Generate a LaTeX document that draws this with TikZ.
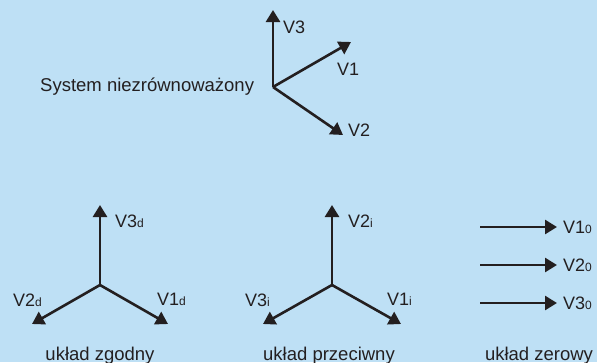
\documentclass[tikz,border=0pt]{standalone}
\usepackage{fontspec}
\setmainfont{Liberation Sans}
\usetikzlibrary{arrows.meta}
\definecolor{bg}{HTML}{BEE0F5}
\definecolor{ink}{HTML}{231F20}
\tikzset{
  vec/.style={draw=ink, line width=2.6pt, -{Triangle[length=12pt,width=14pt]}},
  lbl/.style={text=ink, font=\fontsize{18}{20}\selectfont, inner sep=0pt, anchor=base west},
  captxt/.style={text=ink, font=\fontsize{18.5}{20}\selectfont, inner sep=0pt, anchor=base},
}
\newcommand{\sub}[1]{{\fontsize{12}{12}\selectfont #1}}
\begin{document}
\begin{tikzpicture}[x=1pt,y=-1pt]
\fill[bg] (0,0) rectangle (597,362);
\useasboundingbox (0,0) rectangle (597,362);
% top unbalanced system
\coordinate (o) at (273,87);
\coordinate (t3) at (273,10);
\coordinate (t1) at (351,42);
\coordinate (t2) at (343,135);
\draw[vec] (o) -- (t3);
\draw[vec] (o) -- (t1);
\draw[vec] (o) -- (t2);
\node[lbl] (l3) at (283,33) {V3};
\node[lbl] (l1) at (337,75) {V1};
\node[lbl] (l2) at (348,136) {V2};
\node[captxt, anchor=base west] (sys) at (40,91) {System niezrównoważony};
% positive sequence
\coordinate (od) at (100,285);
\coordinate (d3) at (100,205);
\coordinate (d2) at (32,324);
\coordinate (d1) at (168,324);
\draw[vec] (od) -- (d3);
\draw[vec] (od) -- (d2);
\draw[vec] (od) -- (d1);
\node[lbl] (ld3) at (115,227) {V3\sub{d}};
\node[lbl] (ld2) at (13,306) {V2\sub{d}};
\node[lbl] (ld1) at (157,305) {V1\sub{d}};
\node[captxt] (czg) at (100,360) {układ zgodny};
% negative sequence
\coordinate (oi) at (332,285);
\coordinate (i2) at (332,205);
\coordinate (i3) at (263,324);
\coordinate (i1) at (401,324);
\draw[vec] (oi) -- (i2);
\draw[vec] (oi) -- (i3);
\draw[vec] (oi) -- (i1);
\node[lbl] (li2) at (348,227) {V2\sub{i}};
\node[lbl] (li3) at (245,306) {V3\sub{i}};
\node[lbl] (li1) at (387,305) {V1\sub{i}};
\node[captxt] (cpr) at (329,360) {układ przeciwny};
% zero sequence
\coordinate (a1) at (480,227);
\coordinate (b1) at (557,227);
\coordinate (a2) at (480,265);
\coordinate (b2) at (557,265);
\coordinate (a3) at (480,303);
\coordinate (b3) at (557,303);
\draw[vec] (a1) -- (b1);
\draw[vec] (a2) -- (b2);
\draw[vec] (a3) -- (b3);
\node[lbl] (l01) at (563,233) {V1\sub{0}};
\node[lbl] (l02) at (563,271) {V2\sub{0}};
\node[lbl] (l03) at (563,309) {V3\sub{0}};
\node[captxt] (cze) at (539,360) {układ zerowy};
\end{tikzpicture}
\end{document}
